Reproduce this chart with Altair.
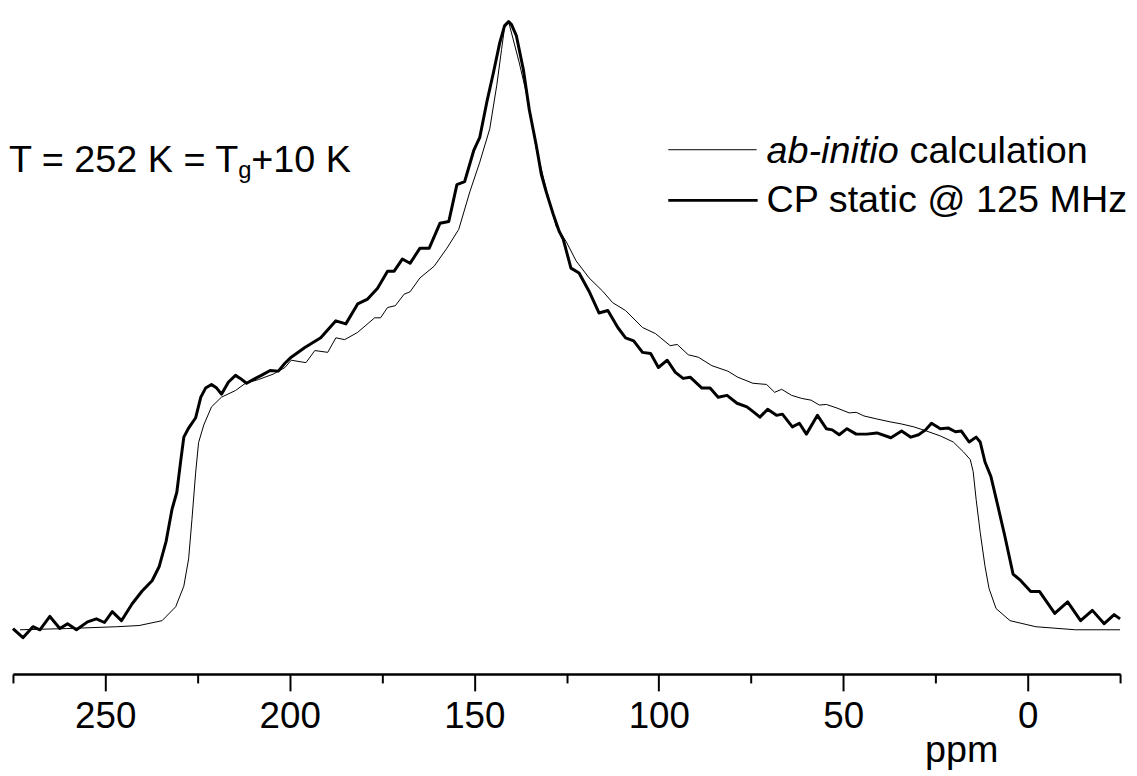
import altair as alt
import pandas as pd

# Experimental CP static spectrum (thick line)
exp_ppm = [275.0, 272.3, 269.6, 267.7, 265.0, 262.3, 260.2, 257.8, 254.8, 252.4,
           250.2, 248.1, 245.6, 242.7, 240.0, 237.3, 235.4, 233.5, 231.9, 230.6,
           229.5, 228.7, 227.4, 225.5, 224.1, 222.8, 221.2, 219.8, 218.5, 216.6,
           214.7, 213.4, 211.7, 209.3, 207.7, 205.3, 203.1, 201.3, 199.6, 195.9,
           191.6, 187.5, 184.8, 181.6, 178.9, 176.2, 173.5, 171.7, 169.5, 167.4,
           164.7, 162.2, 159.3, 156.9, 154.7, 152.6, 150.1, 148.5, 146.6, 144.8,
           143.1, 141.8, 140.7, 139.9, 138.6, 136.7, 135.1, 133.2, 131.8, 130.5,
           128.6, 127.0, 125.9, 123.8, 121.6, 118.9, 116.2, 113.8, 111.1, 109.0,
           106.8, 104.4, 102.2, 100.1, 97.7, 95.5, 93.4, 91.5, 88.3, 86.1,
           83.9, 81.5, 78.8, 76.1, 74.0, 72.6, 70.5, 68.1, 66.5, 63.8,
           61.9, 60.0, 57.0, 54.6, 53.0, 51.1, 49.0, 46.5, 43.6, 40.9,
           37.1, 34.2, 31.7, 29.6, 27.7, 26.1, 23.7, 21.5, 19.6, 18.0,
           15.9, 14.0, 12.9, 11.6, 10.0, 8.1, 6.2, 4.0, 1.9, -0.8,
           -3.2, -7.3, -10.8, -14.3, -17.5, -20.7, -23.4, -25.0]
exp_int = [0.0, -1.5, 0.3, -0.2, 2.0, 0.0, 0.8, -0.2, 1.1, 1.6,
           1.0, 2.8, 1.3, 4.1, 6.2, 7.9, 10.2, 14.4, 19.7, 22.5,
           27.9, 31.6, 33.1, 34.8, 38.2, 39.7, 40.3, 39.7, 38.7, 40.7,
           41.8, 41.3, 40.5, 41.3, 41.8, 42.6, 42.5, 43.8, 44.8, 46.4,
           48.0, 50.8, 50.3, 53.6, 54.4, 56.2, 59.0, 59.0, 61.0, 60.3,
           62.8, 62.8, 66.9, 67.2, 73.3, 73.8, 79.0, 81.1, 86.9, 91.8,
           96.7, 99.5, 100.2, 99.7, 97.9, 92.3, 85.7, 79.8, 74.9, 72.1,
           68.4, 65.6, 64.3, 59.5, 58.7, 55.7, 52.1, 52.5, 49.7, 48.0,
           47.5, 45.6, 45.4, 43.1, 44.3, 42.3, 41.3, 41.5, 39.7, 39.7,
           38.2, 38.5, 37.2, 36.6, 35.6, 34.9, 36.2, 35.2, 35.4, 33.3,
           33.9, 32.1, 35.2, 33.0, 32.8, 32.0, 33.0, 32.1, 32.1, 32.3,
           31.5, 32.6, 31.6, 32.0, 32.8, 33.9, 33.0, 33.1, 32.5, 32.6,
           30.8, 31.6, 30.8, 27.5, 25.1, 20.2, 15.2, 9.0, 7.9, 6.1,
           6.1, 2.5, 4.4, 1.3, 3.0, 0.8, 2.3, 1.6]

# ab-initio calculated spectrum (thin line)
calc_ppm = [273.1, 260.4, 247.0, 240.8, 234.6, 230.9, 228.7, 227.4, 226.5, 225.5,
            224.7, 223.3, 221.2, 218.5, 214.7, 212.0, 208.5, 204.5, 201.3, 199.6,
            195.6, 193.2, 189.7, 187.5, 185.1, 181.6, 177.0, 175.4, 173.5, 171.4,
            169.0, 167.4, 164.7, 160.9, 157.4, 154.2, 151.2, 148.5, 145.8, 143.9,
            142.6, 141.8, 140.7, 137.8, 135.3, 133.2, 130.5, 127.8, 125.1, 122.4,
            118.9, 115.2, 112.5, 109.0, 104.4, 100.9, 96.9, 95.0, 92.0, 89.3,
            85.6, 81.3, 78.6, 74.5, 70.8, 68.6, 66.7, 64.0, 61.3, 58.7,
            56.5, 54.6, 51.7, 48.4, 46.5, 44.4, 40.9, 37.1, 34.4, 30.9,
            27.4, 23.7, 20.2, 17.5, 15.6, 14.8, 14.0, 12.9, 11.6, 10.5,
            8.6, 4.8, -2.2, -12.9, -25.0]
calc_int = [-0.2, 0.0, 0.3, 0.5, 1.3, 3.6, 7.0, 11.5, 18.0, 25.7,
            30.7, 33.6, 36.6, 38.2, 39.3, 40.5, 41.1, 42.0, 43.1, 44.3,
            43.9, 45.9, 45.6, 48.0, 47.7, 48.9, 51.3, 51.3, 53.0, 53.3,
            55.2, 55.6, 57.9, 59.8, 62.8, 65.9, 72.1, 77.0, 82.5, 89.7,
            95.6, 99.2, 100.2, 93.4, 86.9, 79.2, 72.6, 66.4, 63.9, 60.7,
            57.9, 55.7, 53.8, 52.5, 49.7, 48.7, 46.7, 46.9, 45.2, 44.8,
            43.4, 42.5, 41.5, 40.5, 40.3, 39.0, 39.5, 38.5, 38.0, 37.7,
            36.9, 37.0, 36.4, 35.6, 35.7, 35.1, 34.6, 34.1, 33.8, 33.3,
            32.6, 31.8, 30.8, 29.2, 27.9, 25.9, 21.3, 15.9, 10.3, 6.6,
            3.3, 1.3, 0.3, -0.2, -0.2]

major_ticks = [250, 200, 150, 100, 50, 0]
minor_ticks = [275, 225, 175, 125, 75, 25, -25]

legend_labels = ["ab-initio", "calculation", "CP static @ 125 MHz"]
temp_text = ["T = 252 K = T", "g", "+10 K"]

FONT = "Liberation Sans"
W, H = 1115, 668

exp_df = pd.DataFrame({"ppm": exp_ppm, "intensity": exp_int})
calc_df = pd.DataFrame({"ppm": calc_ppm, "intensity": calc_int})

yscale = alt.Scale(domain=[-7.5, 102], nice=False, zero=False)
xdomain = [275, -25]

calc_line = alt.Chart(calc_df).mark_line(
    color="black", strokeWidth=1, strokeJoin="round"
).encode(
    x=alt.X("ppm:Q", scale=alt.Scale(domain=xdomain, nice=False, zero=False),
            axis=alt.Axis(values=major_ticks, orient="bottom", tickSize=17, tickWidth=2,
                          tickColor="black", domainColor="black", domainWidth=2,
                          labelFontSize=37, labelFont=FONT, labelColor="black",
                          labelPadding=8, labelOverlap=False, grid=False,
                          title="ppm", titleFont=FONT, titleFontSize=38,
                          titleFontWeight="normal", titleColor="black",
                          titleX=955, titleY=88, titleAlign="center",
                          titleBaseline="alphabetic")),
    y=alt.Y("intensity:Q", scale=yscale, axis=None),
    order=alt.Order("ppm:Q", sort="descending"),
)

exp_line = alt.Chart(exp_df).mark_line(
    color="black", strokeWidth=3, strokeJoin="round"
).encode(
    x=alt.X("ppm:Q", scale=alt.Scale(domain=xdomain, nice=False, zero=False),
            axis=alt.Axis(values=minor_ticks, orient="bottom", tickSize=9, tickWidth=2,
                          tickColor="black", domainColor="black", domainWidth=2,
                          labels=False, grid=False, title=None)),
    y=alt.Y("intensity:Q", scale=yscale, axis=None),
    order=alt.Order("ppm:Q", sort="descending"),
)

def txt(s, x, y, size=38, style="normal"):
    return alt.Chart(pd.DataFrame({"t": [s]})).mark_text(
        font=FONT, fontSize=size, fontStyle=style, color="black",
        align="left", baseline="alphabetic"
    ).encode(text="t:N", x=alt.value(x), y=alt.value(y))

leg_df = pd.DataFrame({"k": [0]})
thin_leg = alt.Chart(leg_df).mark_rule(color="black", strokeWidth=1).encode(
    x=alt.value(660), x2=alt.value(749), y=alt.value(140))
thick_leg = alt.Chart(leg_df).mark_rule(color="black", strokeWidth=3).encode(
    x=alt.value(660), x2=alt.value(750), y=alt.value(191))

chart = alt.layer(
    calc_line, exp_line,
    thin_leg, thick_leg,
    txt(legend_labels[0], 759, 153, style="italic"),
    txt(legend_labels[1], 903, 153),
    txt(legend_labels[2], 759, 203),
    txt(temp_text[0], -4, 162),
    txt(temp_text[1], 227, 168, size=24),
    txt(temp_text[2], 240, 162),
).resolve_scale(x="independent").properties(
    width=W, height=H,
    autosize=alt.AutoSizeParams(type="none"),
    padding={"left": 5, "top": 0, "right": 9, "bottom": 100},
    background="white",
).configure_view(strokeWidth=0, stroke="transparent")

chart.save("out.html", embed_options={"renderer": "svg", "actions": False})
